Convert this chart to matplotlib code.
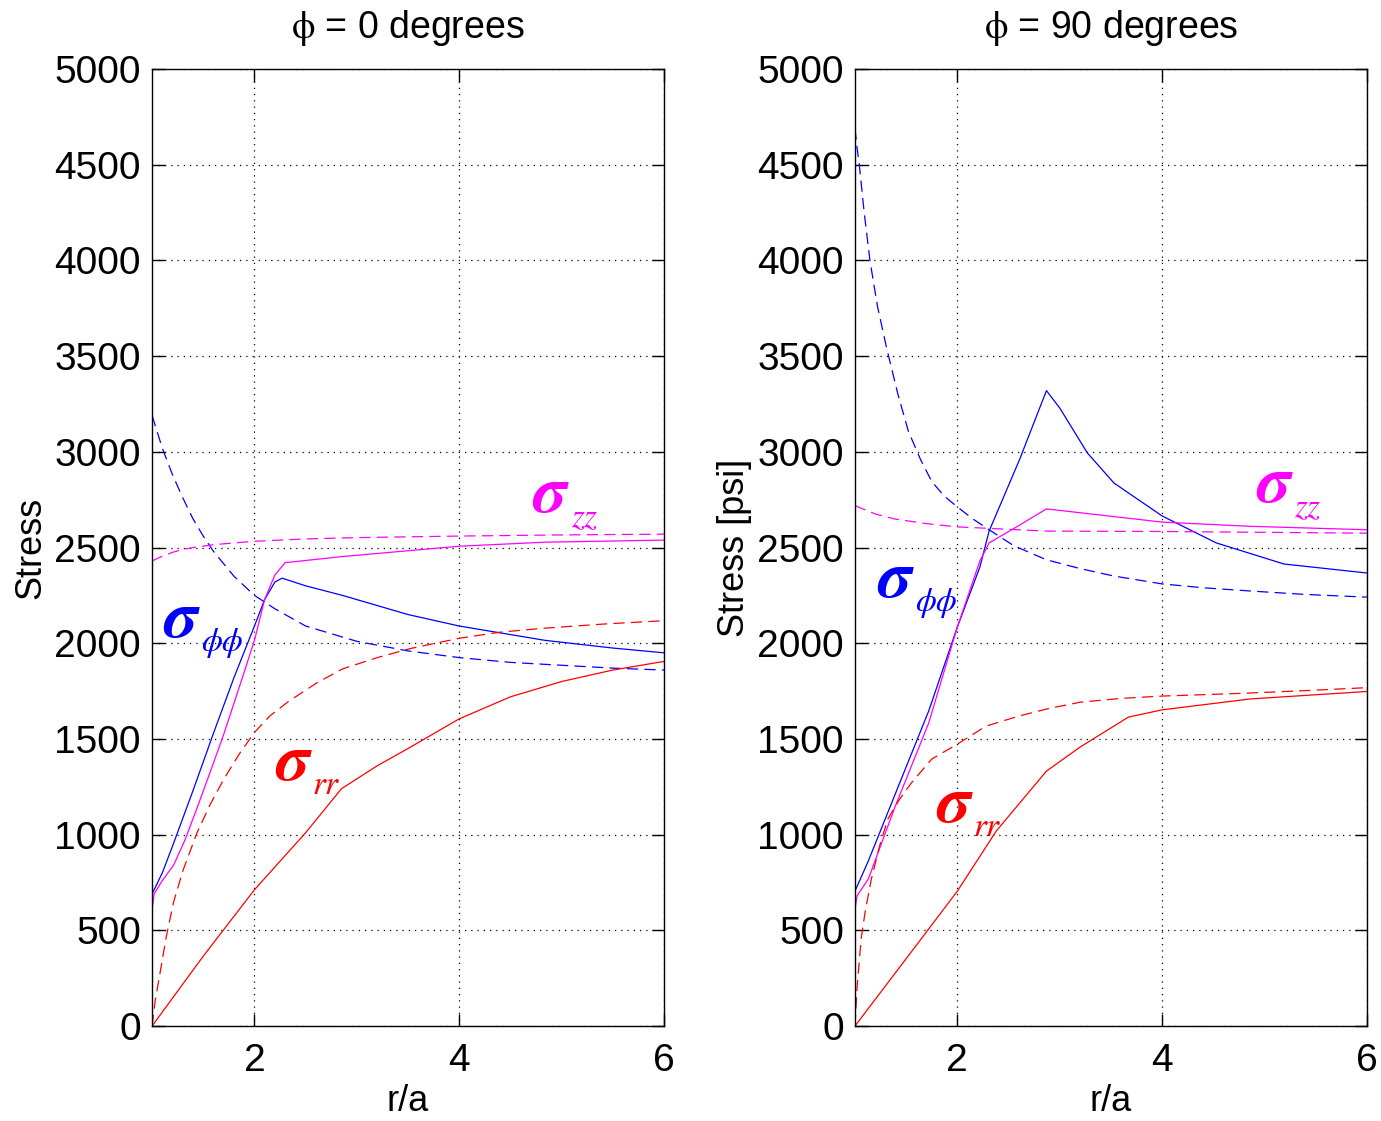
import matplotlib.pyplot as plt

plt.rcParams['font.family'] = ['Liberation Sans', 'DejaVu Sans']
plt.rcParams['mathtext.fontset'] = 'stix'

# phi = 0 degrees
r0_phi_solid = [1.0, 1.1, 1.2, 1.4, 1.6, 1.8, 2.0, 2.1, 2.2, 2.27, 2.5, 2.86, 3.5, 4.0, 4.84, 5.5, 6.0]
s0_phi_solid = [690, 800, 940, 1230, 1530, 1820, 2090, 2229, 2320, 2340, 2300, 2250, 2150, 2090, 2015, 1975, 1950]
r0_phi_dash = [1.0, 1.1, 1.2, 1.3, 1.4, 1.5, 1.6, 1.8, 2.0, 2.2, 2.5, 3.0, 3.5, 4.0, 4.5, 5.0, 5.5, 6.0]
s0_phi_dash = [3190, 3020, 2880, 2760, 2650, 2560, 2480, 2350, 2250, 2180, 2090, 2010, 1960, 1925, 1900, 1885, 1870, 1860]
r0_zz_solid = [1.0, 1.02, 1.1, 1.21, 1.32, 1.44, 1.57, 1.7, 1.87, 2.0, 2.1, 2.2, 2.3, 2.86, 4.0, 4.84, 6.0]
s0_zz_solid = [605, 690, 760, 840, 970, 1140, 1330, 1524, 1800, 2015, 2229, 2357, 2421, 2453, 2507, 2528, 2539]
r0_zz_dash = [1.0, 1.1, 1.2, 1.3, 1.4, 1.6, 2.0, 2.5, 3.0, 4.0, 5.0, 6.0]
s0_zz_dash = [2430, 2455, 2475, 2490, 2500, 2515, 2533, 2545, 2552, 2560, 2566, 2570]
r0_rr_solid = [1.0, 1.5, 2.0, 2.5, 2.85, 3.2, 3.5, 4.0, 4.5, 5.0, 5.5, 6.0]
s0_rr_solid = [0, 365, 712, 1010, 1240, 1360, 1450, 1605, 1720, 1800, 1860, 1905]
r0_rr_dash = [1.0, 1.03, 1.08, 1.14, 1.21, 1.3, 1.44, 1.57, 1.7, 1.85, 2.0, 2.15, 2.33, 2.6,
              2.86, 3.2, 3.52, 4.0, 4.4, 4.84, 5.4, 6.0]
s0_rr_dash = [0, 130, 284, 470, 647, 810, 1011, 1160, 1289, 1420, 1534, 1620, 1695, 1790,
              1866, 1925, 1972, 2026, 2058, 2079, 2100, 2118]

# phi = 90 degrees
r90_phi_solid = [1.0, 1.13, 1.46, 1.72, 2.0, 2.22, 2.31, 2.61, 2.87, 3.0, 3.27, 3.53, 4.0, 4.53, 5.19, 6.0]
s90_phi_solid = [705, 862, 1301, 1646, 2085, 2398, 2586, 2963, 3320, 3229, 2994, 2837, 2665, 2524, 2414, 2367]
r90_phi_dash = [1.0, 1.02, 1.042, 1.09, 1.146, 1.22, 1.31, 1.42, 1.52, 1.64, 1.75, 1.87, 2.0, 2.15,
                2.31, 2.55, 2.87, 3.2, 3.53, 4.0, 4.4, 4.86, 5.4, 6.0]
s90_phi_dash = [4690, 4590, 4500, 4250, 4000, 3760, 3540, 3300, 3110, 2960, 2845, 2770, 2712, 2650,
                2593, 2510, 2436, 2390, 2351, 2310, 2290, 2273, 2255, 2241]
r90_zz_solid = [1.0, 1.02, 1.13, 1.39, 1.72, 2.0, 2.22, 2.31, 2.61, 2.87, 4.0, 4.86, 6.0]
s90_zz_solid = [611, 680, 768, 1144, 1583, 2085, 2430, 2524, 2618, 2702, 2633, 2611, 2593]
r90_zz_dash = [1.0, 1.04, 1.2, 1.39, 1.7, 2.0, 2.87, 4.0, 6.0]
s90_zz_dash = [2720, 2710, 2675, 2649, 2625, 2608, 2586, 2584, 2575]
r90_rr_solid = [1.0, 1.69, 2.0, 2.38, 2.87, 3.2, 3.67, 4.0, 4.86, 6.0]
s90_rr_solid = [0, 486, 705, 1019, 1332, 1458, 1614, 1652, 1709, 1748]
r90_rr_dash = [1.0, 1.02, 1.06, 1.1, 1.16, 1.24, 1.32, 1.43, 1.55, 1.75, 2.0, 2.28, 2.61, 2.9,
               3.2, 3.6, 4.0, 4.86, 5.5, 6.0]
s90_rr_dash = [0, 200, 455, 600, 768, 940, 1081, 1180, 1270, 1395, 1473, 1567, 1621, 1660,
               1692, 1712, 1724, 1740, 1755, 1768]

panels = [
    dict(title=r'$\mathrm{\phi}$ = 0 degrees', ylabel='Stress',
         phi=(r0_phi_solid, s0_phi_solid, r0_phi_dash, s0_phi_dash),
         zz=(r0_zz_solid, s0_zz_solid, r0_zz_dash, s0_zz_dash),
         rr=(r0_rr_solid, s0_rr_solid, r0_rr_dash, s0_rr_dash),
         labels=[(4.717, 2686, 'zz', 'magenta'), (1.107, 2032, '\u03d5\u03d5', 'blue'),
                 (2.2, 1285, 'rr', 'red')]),
    dict(title=r'$\mathrm{\phi}$ = 90 degrees', ylabel='Stress [psi]',
         phi=(r90_phi_solid, s90_phi_solid, r90_phi_dash, s90_phi_dash),
         zz=(r90_zz_solid, s90_zz_solid, r90_zz_dash, s90_zz_dash),
         rr=(r90_rr_solid, s90_rr_solid, r90_rr_dash, s90_rr_dash),
         labels=[(4.92, 2738, 'zz', 'magenta'), (1.215, 2241, '\u03d5\u03d5', 'blue'),
                 (1.79, 1066, 'rr', 'red')]),
]

fig = plt.figure(figsize=(13.81, 11.21), dpi=100)
lefts = [0.1101, 0.6191]

for left, p in zip(lefts, panels):
    ax = fig.add_axes([left, 0.0847, 0.3707, 0.8537])
    for key, col in [('phi', 'blue'), ('zz', 'magenta'), ('rr', 'red')]:
        rs, ss, rd, sd = p[key]
        ax.plot(rs, ss, color=col, lw=0.9, ls='-')
        ax.plot(rd, sd, color=col, lw=0.9, ls=(0, (9, 5)))
    for x, y, sub, col in p['labels']:
        ax.text(x, y, '\u03c3', color=col, fontsize=48, family='STIXGeneral',
                style='italic', weight='bold', va='baseline')
        ax.annotate(sub, xy=(x, y), xytext=(38, -14), textcoords='offset pixels',
                    color=col, fontsize=24, family='STIXGeneral', style='italic',
                    va='baseline')

    ax.set_xlim(1, 6)
    ax.set_ylim(0, 5000)
    ax.set_xticks([2, 4, 6])
    ax.set_yticks(range(0, 5001, 500))
    ax.tick_params(direction='in', length=9, width=1, top=True, right=True, labelsize=28)
    ax.tick_params(axis='x', pad=12)
    ax.tick_params(axis='y', pad=8)
    ax.grid(True, color='black', ls=(0, (1, 4)), lw=0.9)
    for s in ax.spines.values():
        s.set_linewidth(1.0)
    ax.set_title(p['title'], fontsize=27, pad=22)
    ax.set_xlabel('r/a', fontsize=26, labelpad=4)
    ax.set_ylabel(p['ylabel'], fontsize=26, labelpad=4)

fig.savefig('out.png', dpi=100)
